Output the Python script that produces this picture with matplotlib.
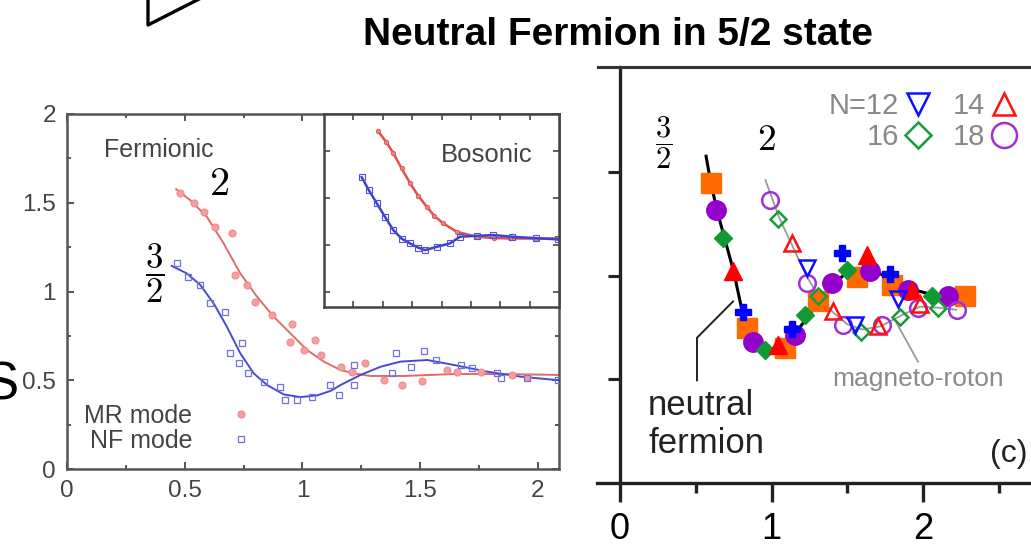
import matplotlib
matplotlib.use("Agg")
import matplotlib.pyplot as plt
from matplotlib.lines import Line2D

plt.rcParams['font.family'] = ['Liberation Sans', 'DejaVu Sans']
plt.rcParams['mathtext.fontset'] = 'cm'

# ---------------- left panel: Fermionic (main) ----------------
mr_x = [0.481, 0.538, 0.580, 0.630, 0.701, 0.715, 0.765, 0.800, 0.871, 0.949, 0.956,
        1.006, 1.055, 1.077, 1.162, 1.211, 1.268, 1.346, 1.424, 1.509, 1.616, 1.658,
        1.757, 1.892, 1.956]
mr_y = [1.553, 1.497, 1.450, 1.365, 1.328, 1.093, 1.037, 0.943, 0.868, 0.717, 0.817,
        0.670, 0.727, 0.642, 0.576, 0.548, 0.595, 0.501, 0.473, 0.497, 0.558, 0.548,
        0.548, 0.530, 0.520]

nf_x = [0.467, 0.516, 0.566, 0.609, 0.672, 0.694, 0.729, 0.743, 0.771, 0.835, 0.906,
        0.928, 0.977, 1.041, 1.119, 1.155, 1.218, 1.218, 1.382, 1.396, 1.460, 1.516,
        1.566, 1.672, 1.722, 1.828, 1.843, 1.956, 2.084]
nf_y = [1.159, 1.084, 1.037, 0.933, 0.886, 0.652, 0.595, 0.708, 0.539, 0.492, 0.464,
        0.389, 0.389, 0.407, 0.473, 0.417, 0.473, 0.586, 0.539, 0.652, 0.576, 0.662,
        0.614, 0.586, 0.567, 0.539, 0.511, 0.511, 0.501]

mr_fit_x = [0.464, 0.523, 0.594, 0.665, 0.736, 0.807, 0.878, 0.949, 1.020, 1.091,
            1.162, 1.218, 1.289, 1.431, 1.644, 1.856, 2.09]
mr_fit_y = [1.576, 1.515, 1.421, 1.272, 1.102, 0.971, 0.858, 0.764, 0.670, 0.605,
            0.558, 0.539, 0.524, 0.524, 0.535, 0.535, 0.530]

nf_fit_x = [0.445, 0.509, 0.566, 0.623, 0.679, 0.736, 0.793, 0.850, 0.921, 0.991,
            1.063, 1.120, 1.162, 1.247, 1.332, 1.417, 1.530, 1.644, 1.786, 1.928, 2.09]
nf_fit_y = [1.144, 1.102, 1.037, 0.933, 0.802, 0.652, 0.539, 0.473, 0.420, 0.405,
            0.415, 0.440, 0.473, 0.530, 0.576, 0.605, 0.614, 0.586, 0.548, 0.520, 0.500]

# ---------------- left panel: Bosonic (inset) ----------------
bos_mr_x = [0.462, 0.53, 0.590, 0.66, 0.732, 0.80, 0.874, 0.94, 1.015, 1.129, 1.30,
            1.45, 1.583, 1.80, 1.994]
bos_mr_y = [2.215, 2.10, 1.983, 1.82, 1.662, 1.53, 1.411, 1.31, 1.233, 1.143, 1.09,
            1.075, 1.072, 1.07, 1.072]
bos_nf_x = [0.321, 0.38, 0.449, 0.52, 0.590, 0.66, 0.732, 0.80, 0.860, 0.959, 1.072,
            1.157, 1.30, 1.441, 1.60, 1.80, 1.994]
bos_nf_y = [1.726, 1.59, 1.447, 1.30, 1.161, 1.07, 1.019, 0.975, 0.947, 0.982, 1.019,
            1.09, 1.10, 1.108, 1.09, 1.075, 1.062]

# ---------------- right panel (c) ----------------
# filled symbols: neutral fermion branch
nfc_sq_x = [0.599, 0.836, 1.089, 1.309, 1.562, 1.793, 2.277]
nfc_sq_y = [2.89, 1.49, 1.30, 1.75, 1.99, 1.91, 1.80]
nfc_ci_x = [0.634, 0.880, 1.155, 1.397, 1.650, 1.903, 2.167]
nfc_ci_y = [2.63, 1.36, 1.43, 1.93, 2.04, 1.86, 1.80]
nfc_di_x = [0.682, 0.957, 1.221, 1.496, 2.057]
nfc_di_y = [2.36, 1.28, 1.62, 2.05, 1.80]
nfc_tr_x = [0.744, 1.045, 1.628, 1.925]
nfc_tr_y = [2.04, 1.33, 2.20, 1.86]
nfc_pl_x = [0.814, 1.133, 1.463, 1.782]
nfc_pl_y = [1.65, 1.48, 2.22, 2.01]
nfc_line_x = [0.568, 0.60, 0.64, 0.69, 0.75, 0.80, 0.85, 0.90, 0.96, 1.03, 1.10, 1.17,
              1.24, 1.32, 1.40, 1.50, 1.60, 1.70, 1.80, 1.92, 2.05, 2.20, 2.34]
nfc_line_y = [3.15, 2.89, 2.63, 2.36, 2.04, 1.70, 1.45, 1.32, 1.28, 1.30, 1.37, 1.47,
              1.60, 1.77, 1.91, 2.03, 2.07, 2.03, 1.95, 1.87, 1.82, 1.80, 1.79]

# open symbols: magneto-roton branch
mrc_18_x = [0.990, 1.232, 1.474, 1.727, 1.969, 2.222]
mrc_18_y = [2.73, 1.93, 1.52, 1.52, 1.69, 1.67]
mrc_16_x = [1.045, 1.309, 1.590, 1.848, 2.101]
mrc_16_y = [2.54, 1.80, 1.46, 1.60, 1.69]
mrc_14_x = [1.133, 1.408, 1.705, 1.980]
mrc_14_y = [2.31, 1.66, 1.51, 1.73]
mrc_12_x = [1.232, 1.551, 1.837]
mrc_12_y = [2.07, 1.52, 1.77]
mrc_line_x = [0.96, 1.05, 1.13, 1.23, 1.31, 1.41, 1.50, 1.60, 1.72, 1.85, 1.98, 2.10, 2.22]
mrc_line_y = [2.92, 2.56, 2.31, 2.00, 1.80, 1.64, 1.53, 1.48, 1.51, 1.61, 1.70, 1.69, 1.67]

W, H = 1031, 550


def fx(px):
    return px / W


def fy(py):
    return 1 - py / H


fig = plt.figure(figsize=(W / 100, H / 100), dpi=100)

# ================= left panel =================
ax = fig.add_axes([fx(67), fy(469), 492 / W, 355 / H])
ax.plot(mr_fit_x, mr_fit_y, color='#e06a6a', lw=1.4, zorder=2)
ax.plot(nf_fit_x, nf_fit_y, color='#4a4ad0', lw=1.4, zorder=2)
ax.plot(mr_x, mr_y, 'o', ms=5, mfc='#f4a0a0', mec='#f08a8a', mew=0.8,
        ls='none', label='MR mode', zorder=3)
ax.plot(nf_x, nf_y, 's', ms=5, mfc='none', mec='#7070e0', mew=0.9,
        ls='none', label='NF mode', zorder=3)
ax.set_xlim(0, 2.09)
ax.set_ylim(0, 2)
ax.set_xticks([0, 0.5, 1, 1.5, 2])
ax.set_xticklabels(['0', '0.5', '1', '1.5', '2'])
ax.set_yticks([0, 0.5, 1, 1.5, 2])
ax.set_yticklabels(['0', '0.5', '1', '1.5', '2'])
ax.set_xticks([0.25, 0.75, 1.25, 1.75], minor=True)
ax.set_yticks([0.25, 0.75, 1.25, 1.75], minor=True)
ax.tick_params(which='both', direction='in', top=True, right=True,
               color='#555555', labelcolor='#444444', labelsize=17.5, width=1.4, pad=8)
ax.tick_params(which='major', length=5)
ax.tick_params(which='minor', length=3)
for s in ax.spines.values():
    s.set_color('#555555')
    s.set_linewidth(1.8)
ax.legend(loc='lower left', bbox_to_anchor=(0.035, 0.045), frameon=False,
          markerfirst=False, fontsize=18, labelcolor='#444444', handlelength=2.4,
          handletextpad=0.75, labelspacing=0.05, borderpad=0, borderaxespad=0,
          markerscale=1.0)

# inset (Bosonic)
axi = fig.add_axes([fx(324), fy(307), 235 / W, 193 / H])
axi.plot(bos_mr_x, bos_mr_y, '-o', color='#e05050', lw=1.8, ms=3.2, mfc='#f08080',
         mec='#e05050', mew=0.6)
axi.plot(bos_nf_x, bos_nf_y, '-s', color='#4040d0', lw=1.8, ms=3.8, mfc='none',
         mec='#5050e0', mew=0.8)
axi.set_xlim(0, 2)
axi.set_ylim(0.34, 2.4)
axi.set_xticks([0.25, 0.5, 0.75, 1, 1.25, 1.5, 1.75])
axi.set_yticks([0.5, 1, 1.5, 2])
axi.tick_params(which='both', direction='in', top=True, right=True, length=4,
                width=1.3, color='#555555', labelbottom=False, labelleft=False)
for s in axi.spines.values():
    s.set_color('#444444')
    s.set_linewidth(1.8)

fig.text(fx(104), fy(150), 'Fermionic', fontsize=18, color='#444444', va='center', ha='left')
fig.text(fx(441), fy(155), 'Bosonic', fontsize=18.5, color='#444444', va='center', ha='left')
fig.text(fx(219), fy(184), r'$2$', fontsize=29, ha='center', va='center')
fig.text(fx(155), fy(273), r'$\dfrac{3}{2}$', fontsize=25, ha='center', va='center')
fig.text(fx(-16), fy(399), 'S', fontsize=38, ha='left', va='baseline')

# ================= right panel (c) =================
ax2 = fig.add_axes([fx(597), fy(483), 434 / W, 416 / H])
ax2.plot(mrc_line_x, mrc_line_y, color='#9a9a9a', lw=1.3, zorder=1)
ax2.plot(nfc_line_x, nfc_line_y, color='black', lw=2.2, zorder=2)
ax2.plot(nfc_sq_x, nfc_sq_y, 's', ms=14, color='#ff6a00', ls='none', zorder=3)
ax2.plot(nfc_ci_x, nfc_ci_y, 'o', ms=14, color='#9400cc', ls='none', zorder=3)
ax2.plot(nfc_di_x, nfc_di_y, 'D', ms=9.5, color='#119933', ls='none', zorder=3)
ax2.plot(nfc_tr_x, nfc_tr_y, '^', ms=13, color='#ff0000', ls='none', zorder=3)
ax2.plot(nfc_pl_x, nfc_pl_y, 'P', ms=12, color='#0000ff', ls='none', zorder=3)
h18, = ax2.plot(mrc_18_x, mrc_18_y, 'o', ms=12, mfc='none', mec='#a030d8', mew=1.8,
                ls='none', zorder=4)
h16, = ax2.plot(mrc_16_x, mrc_16_y, 'D', ms=8.5, mfc='none', mec='#1a9a3a', mew=1.8,
                ls='none', zorder=4)
h14, = ax2.plot(mrc_14_x, mrc_14_y, '^', ms=11, mfc='none', mec='#ff1010', mew=1.8,
                ls='none', zorder=4)
h12, = ax2.plot(mrc_12_x, mrc_12_y, 'v', ms=11, mfc='none', mec='#1010ff', mew=1.8,
                ls='none', zorder=4)

ax2.set_xlim(-0.152, 2.713)
ax2.set_ylim(0, 4.01)
ax2.spines['top'].set_visible(False)
ax2.spines['right'].set_visible(False)
ax2.spines['left'].set_position(('data', 0))
for s in ('left', 'bottom'):
    ax2.spines[s].set_linewidth(2.4)
    ax2.spines[s].set_color('#222222')
ax2.set_xticks([0, 1, 2])
ax2.set_xticklabels(['0', '1', '2'])
ax2.set_xticks([0.5, 1.5, 2.5], minor=True)
ax2.set_yticks([1, 2, 3])
ax2.tick_params(axis='x', which='major', direction='out', length=14, width=2.4,
                color='#222222', labelsize=26, pad=7)
ax2.tick_params(axis='x', which='minor', direction='out', length=7, width=2.4,
                color='#222222')
ax2.tick_params(axis='y', which='major', direction='out', length=9, width=2.2,
                color='#222222', labelleft=False)

ax2.legend(handles=[h12, h16, h14, h18], labels=['N=12', '16', '14', '18'], ncol=2,
           markerfirst=False, frameon=False, loc='upper right',
           bbox_to_anchor=(0.972, 0.94), fontsize=21, labelcolor='#888888',
           handletextpad=0.15, columnspacing=0.7, handlelength=1.0, markerscale=1.5,
           labelspacing=0.1, borderpad=0, borderaxespad=0)

# leader lines
ax2.plot([0.746, 0.508, 0.508], [1.75, 1.40, 0.99], color='#222222', lw=1.4, zorder=2)
ax2.plot([1.815, 1.967], [1.57, 1.17], color='#9a9a9a', lw=1.3, zorder=2)
ax2.text(0.185, 0.656, 'neutral', fontsize=25, color='#222222', va='baseline')
ax2.text(0.185, 0.289, 'fermion', fontsize=25, color='#222222', va='baseline')
ax2.text(1.40, 0.935, 'magneto-roton', fontsize=19, color='#8a8a8a', va='baseline')
ax2.text(2.69, 0.20, '(c)', fontsize=23, color='#222222', va='baseline', ha='right')

fig.text(fx(664), fy(143), r'$\dfrac{3}{2}$', fontsize=22, ha='center', va='center')
fig.text(fx(766), fy(140), r'$2$', fontsize=27, ha='center', va='center')

# top border of the panel above (c)
fig.add_artist(Line2D([fx(598), 1.0], [fy(67), fy(67)], color='#333333', lw=2.2))

# pointer shape at top left
fig.add_artist(Line2D([fx(148), fx(148), fx(205)], [fy(-2), fy(25), fy(-4)],
                      color='black', lw=2.4))

fig.text(fx(618), fy(35), 'Neutral Fermion in 5/2 state', ha='center', va='center',
         fontsize=28, fontweight='bold', family=['Liberation Sans', 'DejaVu Sans'])

fig.savefig('out.png', dpi=100)
